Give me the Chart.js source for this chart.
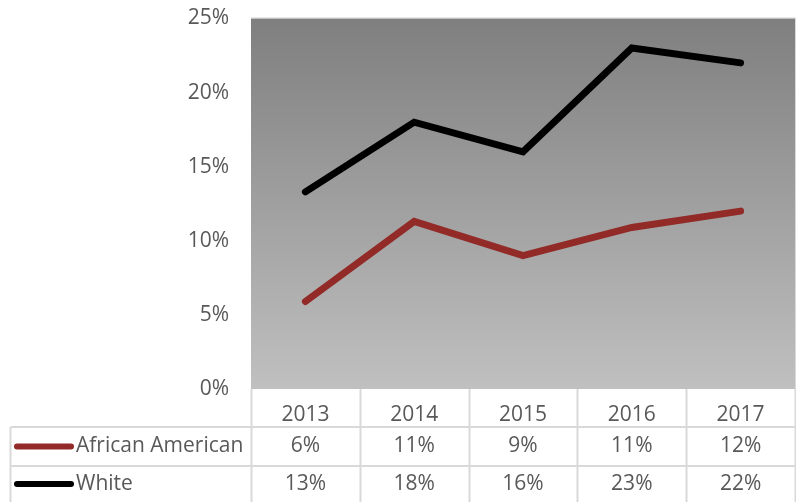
<!DOCTYPE html>
<html>
<head>
<meta charset="utf-8">
<script src="https://cdn.jsdelivr.net/npm/chart.js@4"></script>
<style>
  html, body { margin: 0; padding: 0; background: #ffffff; }
  #wrap { width: 796px; height: 502px; position: relative; }
</style>
</head>
<body>
<div id="wrap"><canvas id="chart"></canvas></div>
<script>
const years = ['2013', '2014', '2015', '2016', '2017'];
const africanAmerican = [5.9, 11.3, 9.0, 10.9, 12.0];
const white = [13.3, 18.0, 16.0, 23.0, 22.0];
const yTicks = [0, 5, 10, 15, 20, 25];

const textColor = '#595959';
const gridColor = '#d9d9d9';
const fontFamily = "'Open Sans', 'Noto Sans', sans-serif";
const fontSize = 21;

// table rows under the plot: header (years) then one row per series
const headerBottom = 427;
const rowBottoms = [466, 502];

const backgroundAndTable = {
    id: 'backgroundAndTable',
    beforeDatasetsDraw(chart) {
        const { ctx, chartArea } = chart;
        const g = ctx.createLinearGradient(0, chartArea.top, 0, chartArea.bottom);
        g.addColorStop(0, '#7f7f7f');
        g.addColorStop(1, '#c0c0c0');
        ctx.save();
        ctx.fillStyle = g;
        ctx.fillRect(chartArea.left, chartArea.top, chartArea.right - chartArea.left, chartArea.bottom - chartArea.top);
        ctx.strokeStyle = gridColor;
        ctx.lineWidth = 1;
        ctx.beginPath();
        ctx.moveTo(chartArea.left, chartArea.top - 0.5);
        ctx.lineTo(chartArea.right + 0.5, chartArea.top - 0.5);
        ctx.lineTo(chartArea.right + 0.5, chartArea.bottom);
        ctx.stroke();
        ctx.restore();
    },
    afterDraw(chart) {
        const { ctx, chartArea } = chart;
        const x = chart.scales.x;
        const step = x.getPixelForValue(1) - x.getPixelForValue(0);
        const tableLeft = 10.5;
        const right = chartArea.right + 0.5;

        ctx.save();
        ctx.strokeStyle = gridColor;
        ctx.lineWidth = 2;
        ctx.beginPath();
        // vertical separators
        for (let i = 0; i <= years.length; i++) {
            const px = Math.round(x.getPixelForValue(0) - step / 2 + i * step) + 0.5;
            ctx.moveTo(px, chartArea.bottom);
            ctx.lineTo(px, 502);
        }
        // horizontal separators and left border
        ctx.moveTo(tableLeft, headerBottom);
        ctx.lineTo(right, headerBottom);
        ctx.moveTo(tableLeft, rowBottoms[0]);
        ctx.lineTo(right, rowBottoms[0]);
        ctx.moveTo(tableLeft, headerBottom);
        ctx.lineTo(tableLeft, 502);
        ctx.stroke();

        // row contents: legend key, name, rounded values
        ctx.font = fontSize + 'px ' + fontFamily;
        ctx.textBaseline = 'middle';
        let top = headerBottom;
        chart.data.datasets.forEach((ds, r) => {
            const cy = (top + rowBottoms[r]) / 2;
            ctx.strokeStyle = ds.borderColor;
            ctx.lineWidth = 6;
            ctx.lineCap = 'round';
            ctx.beginPath();
            ctx.moveTo(17, cy);
            ctx.lineTo(71, cy);
            ctx.stroke();

            ctx.fillStyle = textColor;
            ctx.textAlign = 'left';
            ctx.fillText(ds.label, 76, cy);
            ctx.textAlign = 'center';
            ds.data.forEach((v, i) => {
                ctx.fillText(Math.round(v) + '%', x.getPixelForValue(i), cy);
            });
            top = rowBottoms[r];
        });
        ctx.restore();
    }
};

new Chart(document.getElementById('chart'), {
    type: 'line',
    data: {
        labels: years,
        datasets: [
            {
                label: 'African American',
                data: africanAmerican,
                borderColor: '#922a27',
                borderWidth: 7,
                borderCapStyle: 'round',
                pointRadius: 0,
                tension: 0
            },
            {
                label: 'White',
                data: white,
                borderColor: '#000000',
                borderWidth: 7,
                borderCapStyle: 'round',
                pointRadius: 0,
                tension: 0
            }
        ]
    },
    options: {
        responsive: true,
        maintainAspectRatio: false,
        animation: false,
        layout: { padding: { top: 0, right: 1, bottom: 502 - headerBottom, left: 0 } },
        plugins: { legend: { display: false }, tooltip: { enabled: false } },
        scales: {
            x: {
                offset: true,
                grid: { display: false },
                border: { display: false },
                ticks: { color: textColor, font: { family: fontFamily, size: fontSize }, padding: 5 },
                afterFit(scale) { scale.height = headerBottom - 389; }
            },
            y: {
                min: 0,
                max: 25,
                afterBuildTicks(scale) { scale.ticks = yTicks.map(v => ({ value: v })); },
                grid: { display: false },
                border: { display: false },
                ticks: {
                    color: textColor,
                    font: { family: fontFamily, size: fontSize, lineHeight: 0.42 },
                    padding: 14,
                    callback: v => v + '%'
                },
                afterFit(scale) { scale.width = 251; }
            }
        }
    },
    plugins: [backgroundAndTable]
});
</script>
</body>
</html>
